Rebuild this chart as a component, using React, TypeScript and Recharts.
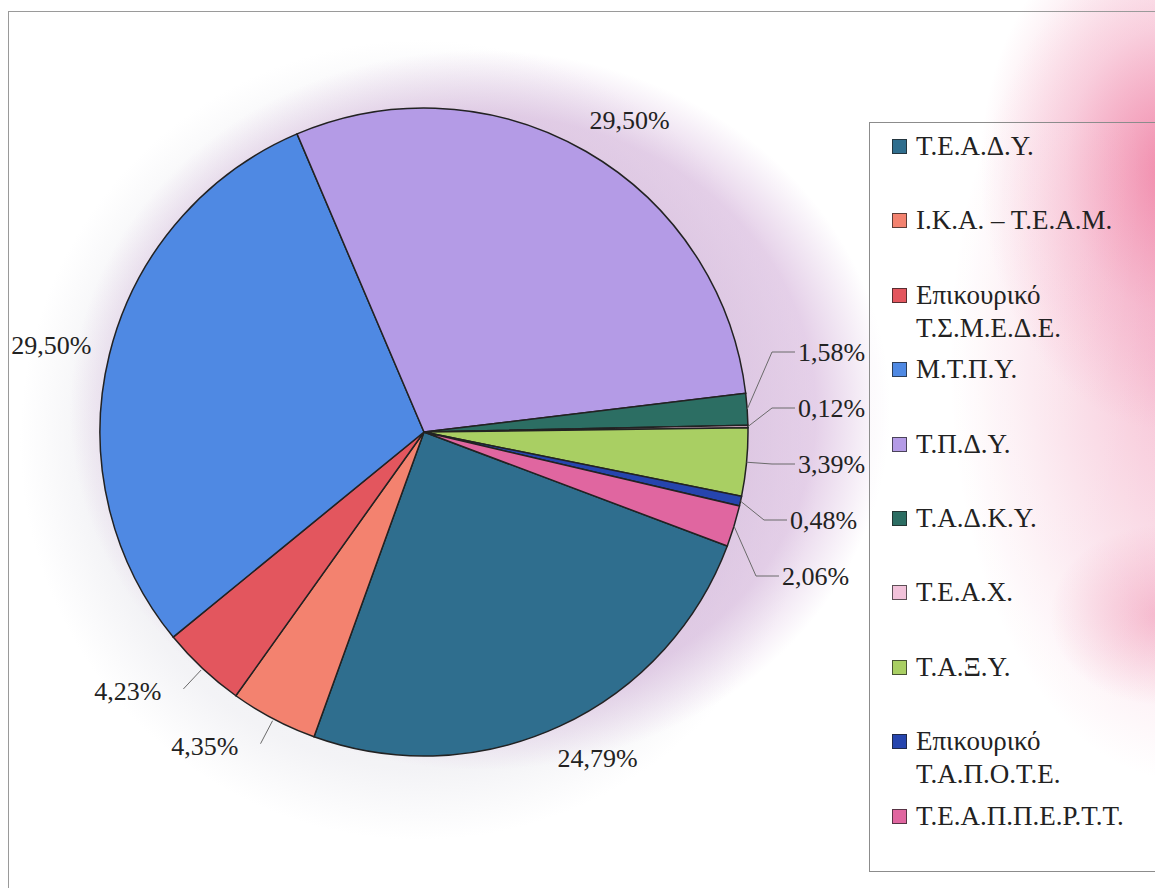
import React from 'react'
import { PieChart, Pie, Cell, Legend } from 'recharts'

// Κατανομή ανά ταμείο (%)
const FUNDS = [
  'Τ.Ε.Α.Δ.Υ.',
  'Ι.Κ.Α. – Τ.Ε.Α.Μ.',
  'Επικουρικό Τ.Σ.Μ.Ε.Δ.Ε.',
  'Μ.Τ.Π.Υ.',
  'Τ.Π.Δ.Υ.',
  'Τ.Α.Δ.Κ.Υ.',
  'Τ.Ε.Α.Χ.',
  'Τ.Α.Ξ.Υ.',
  'Επικουρικό Τ.Α.Π.Ο.Τ.Ε.',
  'Τ.Ε.Α.Π.Π.Ε.Ρ.Τ.Τ.',
]
const SHARES = [24.79, 4.35, 4.23, 29.5, 29.5, 1.58, 0.12, 3.39, 0.48, 2.06]
const COLORS = [
  '#2F6E8E',
  '#F3826F',
  '#E3565E',
  '#4F89E3',
  '#B49BE6',
  '#2C6E63',
  '#F2C2DA',
  '#A9CF63',
  '#2645AE',
  '#E066A0',
]

const RAD = Math.PI / 180
const FONT = "'Liberation Serif', 'Tinos', 'Times New Roman', 'DejaVu Serif', serif"

const fmt = (v: number) => v.toFixed(2).replace('.', ',') + '%'

function renderLabel(props: any) {
  const { cx, cy, midAngle, outerRadius: r, index, value } = props
  const cos = Math.cos(-midAngle * RAD)
  const sin = Math.sin(-midAngle * RAD)
  const at = (rr: number) => [cx + rr * cos, cy + rr * sin]
  const txt = { fontFamily: FONT, fontSize: 26, fill: '#222' }

  // tiny slices on the right: stacked labels with elbow leaders
  if (index >= 5) {
    const k = index - 5
    const y = cy - 80 + k * 56
    const shift = Math.max(0, k - 2) * 8
    const [x0, y0] = at(r)
    const ex = cx + r + 24 - shift
    const tx = cx + r + 50 - shift
    return (
      <g key={`lbl-${index}`}>
        <polyline
          points={`${x0},${y0} ${ex},${y} ${tx - 3},${y}`}
          fill="none"
          stroke="#6a6a6a"
          strokeWidth={1}
        />
        <text x={tx} y={y} textAnchor="start" dominantBaseline="central" fontFamily={FONT} style={txt}>
          {fmt(value)}
        </text>
      </g>
    )
  }

  // the two ~4% slices at the bottom left: short radial leaders
  if (value < 5) {
    const [x0, y0] = at(r + 2)
    const [x1, y1] = at(r + 28)
    return (
      <g key={`lbl-${index}`}>
        <line x1={x0} y1={y0} x2={x1} y2={y1} stroke="#6a6a6a" strokeWidth={1} />
        <text x={x1 - 22} y={y1 + 3} textAnchor="end" dominantBaseline="central" fontFamily={FONT} style={txt}>
          {fmt(value)}
        </text>
      </g>
    )
  }

  const [px, py] = at(r + 30)
  return (
    <text
      key={`lbl-${index}`}
      x={px + cos * 39 + 9}
      y={py + sin * 6}
      textAnchor="middle"
      dominantBaseline="central"
      fontFamily={FONT}
      style={txt}
    >
      {fmt(value)}
    </text>
  )
}

// legend drawn in data order (recharts would sort it by name)
function LegendBox() {
  return (
    <div style={{ position: 'relative', width: '100%', height: '100%', fontFamily: FONT, fontSize: 27, color: '#222' }}>
      {FUNDS.map((name, i) => (
        <div
          key={name}
          style={{ position: 'absolute', top: 7 + i * 74.4, left: 22, display: 'flex', alignItems: 'flex-start' }}
        >
          <span
            style={{
              width: 15,
              height: 15,
              marginTop: 9,
              background: COLORS[i],
              border: '1.5px solid rgba(30,30,30,0.7)',
              boxSizing: 'border-box',
              flex: 'none',
            }}
          />
          <span style={{ marginLeft: 9, lineHeight: '33px', width: 232 }}>{name}</span>
        </div>
      ))}
    </div>
  )
}

export default function App() {
  const data = FUNDS.map((name, i) => ({ name, value: SHARES[i] }))

  return (
    <div
      style={{
        position: 'absolute',
        left: 0,
        top: 0,
        width: 1155,
        height: 888,
        overflow: 'hidden',
        fontFamily: FONT,
        background: [
          'radial-gradient(ellipse 190px 260px at 1170px 170px, rgba(238,110,150,0.75) 0%, rgba(240,140,175,0.35) 55%, rgba(255,255,255,0) 100%)',
          'radial-gradient(ellipse 230px 420px at 1180px 360px, rgba(240,140,175,0.55) 0%, rgba(242,160,190,0.3) 55%, rgba(255,255,255,0) 100%)',
          'radial-gradient(ellipse 110px 90px at 1160px 615px, rgba(238,130,165,0.5), rgba(255,255,255,0))',
          'radial-gradient(ellipse 410px 360px at 480px 410px, rgba(200,158,208,0.6) 0%, rgba(205,165,212,0.52) 82%, rgba(255,255,255,0) 100%)',
          'radial-gradient(ellipse 400px 400px at 420px 440px, rgba(215,215,225,0.5) 0%, rgba(225,225,232,0.4) 82%, rgba(255,255,255,0) 100%)',
          '#ffffff',
        ].join(','),
      }}
    >
      <style>{'body{margin:0}'}</style>
      <div
        style={{
          position: 'absolute',
          left: 8,
          top: 11,
          width: 1200,
          height: 900,
          borderLeft: '1px solid #9a9a9a',
          borderTop: '1px solid #9a9a9a',
        }}
      />
      <PieChart width={1155} height={888} margin={{ top: 0, right: 0, bottom: 0, left: 0 }} style={{ position: 'absolute', left: 0, top: 0 }}>
        <Pie
          data={data}
          dataKey="value"
          nameKey="name"
          cx={424}
          cy={432}
          outerRadius={324}
          startAngle={-20.6}
          endAngle={-380.6}
          stroke="#222"
          strokeWidth={1.5}
          labelLine={false}
          label={renderLabel}
          isAnimationActive={false}
        >
          {data.map((d, i) => (
            <Cell key={d.name} fill={COLORS[i]} />
          ))}
        </Pie>
        <Legend
          layout="vertical"
          align="right"
          verticalAlign="top"
          content={<LegendBox />}
          wrapperStyle={{
            left: 869,
            top: 122,
            width: 300,
            height: 748,
            border: '1.5px solid #8c8c8c',
            background: 'linear-gradient(to right, rgba(255,255,255,0.6), rgba(255,255,255,0.2) 40%, rgba(255,255,255,0))',
          }}
        />
      </PieChart>
    </div>
  )
}
